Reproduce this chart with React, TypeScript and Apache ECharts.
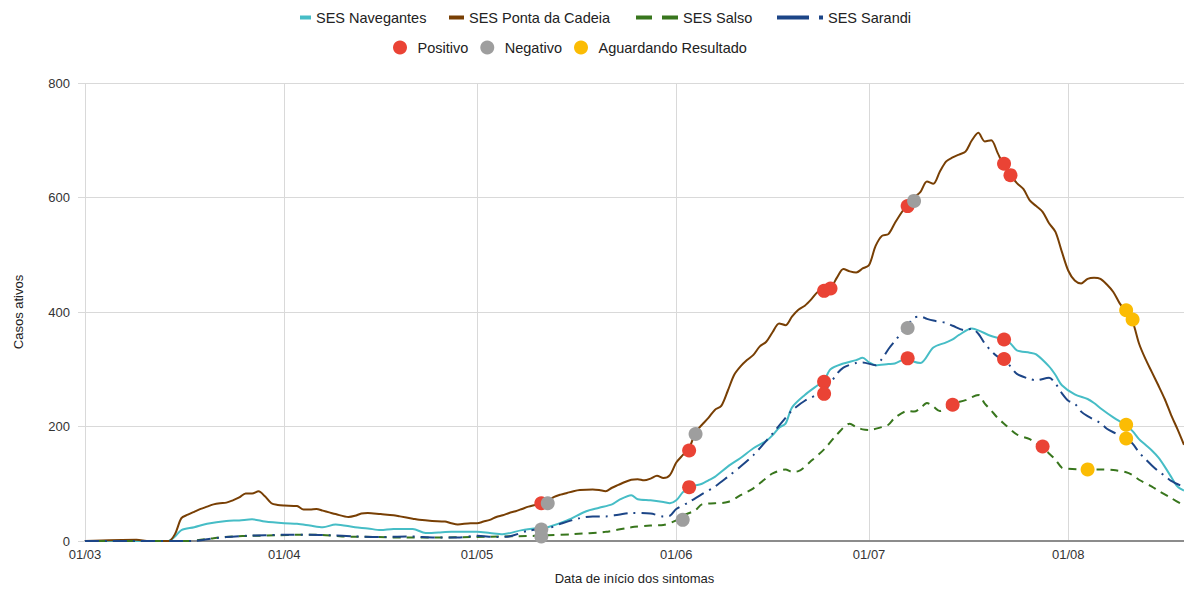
import React, { useEffect, useRef } from "react";
import * as echarts from "echarts";

// Category labels: one per day from 01/03 to 19/08
const monthNums = [3, 4, 5, 6, 7, 8];
const monthLens = [31, 30, 31, 30, 31, 31];
const lastDayIndex = 171;
const categories: string[] = [];
const monthStarts: number[] = [];
(() => {
  let idx = 0;
  for (let m = 0; m < monthNums.length; m++) {
    monthStarts.push(idx);
    for (let d = 1; d <= monthLens[m]; d++) {
      if (idx > lastDayIndex) return;
      categories.push(String(d).padStart(2, "0") + "/" + String(monthNums[m]).padStart(2, "0"));
      idx++;
    }
  }
})();

// [day index, active cases]
const navegantes: [number, number][] = [
  [0,0],[13,0],[14,8],[15,19],[17,24],[19,30],[22,35],[24,36],[26,38],[28,34],[31,31],[33,30],[35,27],[37,24],[39,29],[42,24],[44,22],[46,19],[48,21],[51,21],[53,14],[55,15],[57,16],[61,16],[63,14],[65,12],[68,19],[71,23],[72,24],[75,36],[78,52],[80,58],[82,64],[83,71],[85,80],[86,73],[88,71],[90,68],[91,66],[92,71],[93,85],[94,94],[96,100],[97,106],[98,112],[100,130],[102,145],[104,162],[106,175],[107,185],[108,198],[109,205],[110,233],[112,255],[114,272],[115,280],[116,300],[118,310],[120,316],[121,320],[122,312],[123,307],[125,309],[126,310],[128,319],[129,313],[130,311],[132,338],[134,347],[135,352],[136,360],[138,371],[139,368],[141,358],[143,352],[144,345],[145,333],[147,329],[148,326],[150,305],[151,290],[152,272],[154,256],[156,248],[157,241],[158,232],[160,216],[162,202],[163,192],[164,178],[165,168],[166,158],[167,146],[168,130],[169,112],[170,95],[171,88]
];
const pontaDaCadeia: [number, number][] = [
  [0,0],[8,2],[10,0],[13,0],[14,12],[15,40],[16,46],[17,51],[18,56],[19,60],[20,64],[21,66],[22,67],[23,71],[24,76],[25,83],[26,83],[27,87],[28,78],[29,66],[30,63],[31,62],[33,61],[34,55],[35,55],[36,56],[37,53],[38,50],[39,47],[41,42],[42,44],[43,48],[44,49],[46,47],[48,45],[49,43],[51,39],[52,37],[54,35],[56,34],[57,31],[58,29],[60,31],[61,31],[62,34],[63,37],[64,42],[65,45],[66,49],[67,52],[68,56],[69,60],[70,63],[71,66],[72,70],[73,77],[74,81],[75,84],[76,87],[77,89],[79,90],[80,89],[81,87],[82,93],[83,98],[84,103],[85,107],[86,108],[87,106],[88,109],[89,114],[90,110],[91,115],[92,137],[93,150],[94,162],[95,190],[96,203],[97,215],[98,229],[99,236],[100,262],[101,290],[102,305],[103,316],[104,325],[105,340],[106,348],[107,365],[108,380],[109,377],[110,392],[111,404],[112,411],[113,422],[114,435],[115,440],[116,442],[117,460],[118,475],[119,471],[120,469],[121,476],[122,482],[123,515],[124,533],[125,536],[126,555],[127,573],[128,588],[129,600],[130,610],[131,628],[132,624],[133,645],[134,663],[135,670],[136,675],[137,680],[138,700],[139,713],[140,698],[141,700],[142,678],[143,655],[144,640],[145,625],[146,615],[147,595],[148,585],[149,575],[150,555],[151,540],[152,505],[153,472],[154,455],[155,450],[156,458],[157,460],[158,458],[159,448],[160,435],[161,415],[162,400],[163,383],[164,345],[165,318],[166,295],[167,272],[168,248],[169,220],[170,195],[171,168]
];
const salso: [number, number][] = [
  [0,0],[16,0],[18,2],[20,5],[23,8],[26,9],[30,10],[33,11],[36,11],[40,8],[45,7],[50,6],[55,6],[60,7],[65,8],[70,9],[72,10],[76,12],[81,16],[85,24],[88,27],[90,28],[92,36],[93,44],[95,54],[96,64],[98,66],[100,68],[102,80],[104,92],[106,110],[107,118],[109,125],[110,121],[111,122],[113,140],[115,160],[117,186],[119,205],[120,199],[121,195],[122,194],[124,199],[125,203],[126,215],[128,227],[129,226],[130,232],[131,241],[132,235],[133,227],[134,233],[135,240],[137,246],[139,255],[140,240],[141,228],[142,215],[143,205],[145,186],[147,178],[148,170],[149,163],[150,153],[151,142],[152,128],[153,126],[155,125],[158,125],[160,124],[162,120],[163,115],[164,107],[166,95],[167,88],[169,75],[171,62]
];
const sarandi: [number, number][] = [
  [0,0],[17,0],[19,3],[22,7],[25,9],[28,10],[32,11],[35,11],[38,10],[42,8],[46,7],[50,8],[55,6],[58,6],[61,9],[64,7],[66,8],[69,18],[72,22],[74,30],[77,40],[79,43],[81,43],[83,46],[85,49],[88,48],[90,43],[91,44],[92,56],[94,68],[96,82],[98,95],[100,112],[102,130],[104,150],[106,175],[107,188],[109,215],[110,228],[112,245],[115,262],[116,276],[117,292],[118,303],[120,311],[121,312],[123,307],[124,318],[125,335],[126,349],[128,377],[129,390],[130,392],[131,388],[132,385],[134,381],[135,376],[137,368],[138,371],[139,362],[140,345],[141,332],[142,322],[143,317],[144,305],[145,292],[147,283],[148,281],[150,285],[151,275],[152,258],[153,245],[154,240],[155,226],[156,218],[158,206],[159,196],[160,190],[162,180],[163,170],[164,155],[165,143],[166,132],[167,122],[168,114],[169,105],[171,94]
];

const positivo: [number, number][] = [
  [71,66],[94,158],[94,94],[115,437],[116,441],[115,278],[115,257],[128,585],[128,319],[135,238],[143,659],[144,639],[143,352],[143,318],[149,165]
];
const negativo: [number, number][] = [
  [72,66],[71,20],[71,8],[93,37],[95,187],[129,594],[128,372]
];
const aguardando: [number, number][] = [
  [162,403],[163,387],[162,203],[162,179],[156,125]
];

const FONT = "Liberation Sans, Arial, sans-serif";
const LEGEND_TEXT = { fontSize: 14.5, color: "#222", fontFamily: FONT };

export default function App() {
  const ref = useRef<HTMLDivElement>(null);
  useEffect(() => {
    if (!ref.current) return;
    const chart = echarts.init(ref.current, undefined, { renderer: "svg" });
    const isMonthStart = (i: number) => monthStarts.indexOf(i) >= 0;
    const lineLegend = (name: string, left: number, w: number, icon: string) => ({
      data: [{ name, icon }],
      top: 10,
      left,
      padding: 0,
      itemWidth: w,
      itemHeight: 4,
      textStyle: LEGEND_TEXT,
    });
    chart.setOption({
      animation: false,
      textStyle: { fontFamily: FONT },
      legend: [
        lineLegend("SES Navegantes", 300, 11, "rect"),
        lineLegend("SES Ponta da Cadeia", 449, 15, "rect"),
        lineLegend("SES Salso", 636, 42, "path://M0,0H16V4H0ZM26,0H42V4H26Z"),
        lineLegend("SES Sarandi", 777, 46, "path://M0,0H32V4H0ZM42,0H46V4H42Z"),
        {
          data: ["Positivo", "Negativo", "Aguardando Resultado"],
          top: 40,
          left: 393,
          padding: 0,
          icon: "circle",
          itemWidth: 25,
          itemHeight: 14,
          itemGap: 12,
          textStyle: LEGEND_TEXT,
        },
      ],
      grid: { left: 85, right: 0, top: 83, bottom: 46, containLabel: false },
      xAxis: {
        type: "category",
        data: categories,
        boundaryGap: false,
        name: "Data de início dos sintomas",
        nameLocation: "middle",
        nameGap: 31,
        nameTextStyle: { fontSize: 13, color: "#222", fontFamily: FONT },
        axisLine: { lineStyle: { color: "#8c8c8c", width: 2 } },
        axisTick: { show: false },
        axisLabel: { interval: (i: number) => isMonthStart(i), fontSize: 13, color: "#333", margin: 7, fontFamily: FONT },
        splitLine: { show: true, interval: (i: number) => isMonthStart(i), lineStyle: { color: "#d9d9d9", width: 1 } },
      },
      yAxis: {
        type: "value",
        min: 0,
        max: 800,
        interval: 200,
        name: "Casos ativos",
        nameLocation: "middle",
        nameGap: 60,
        nameTextStyle: { fontSize: 13, color: "#222", fontFamily: FONT },
        axisLine: { show: false },
        axisTick: { show: true, length: 7, lineStyle: { color: "#d9d9d9" } },
        axisLabel: { fontSize: 13, color: "#333", margin: 15, fontFamily: FONT },
        splitLine: { lineStyle: { color: "#d9d9d9", width: 1 } },
      },
      series: [
        {
          name: "SES Navegantes", type: "line", data: navegantes, symbol: "none", smooth: 0.3,
          lineStyle: { color: "#46bdc6", width: 2 }, itemStyle: { color: "#46bdc6" },
        },
        {
          name: "SES Ponta da Cadeia", type: "line", data: pontaDaCadeia, symbol: "none", smooth: 0.3,
          lineStyle: { color: "#783f04", width: 2 }, itemStyle: { color: "#783f04" },
        },
        {
          name: "SES Salso", type: "line", data: salso, symbol: "none", smooth: 0.3,
          lineStyle: { color: "#38761d", width: 2, type: [8, 6] }, itemStyle: { color: "#38761d" },
        },
        {
          name: "SES Sarandi", type: "line", data: sarandi, symbol: "none", smooth: 0.3,
          lineStyle: { color: "#1c4587", width: 2, type: [14, 6, 2, 6] }, itemStyle: { color: "#1c4587" },
        },
        {
          name: "Positivo", type: "scatter", data: positivo, symbol: "circle", symbolSize: 14, z: 5,
          itemStyle: { color: "#ea4335", opacity: 1 },
        },
        {
          name: "Negativo", type: "scatter", data: negativo, symbol: "circle", symbolSize: 14, z: 5,
          itemStyle: { color: "#9e9e9e", opacity: 1 },
        },
        {
          name: "Aguardando Resultado", type: "scatter", data: aguardando, symbol: "circle", symbolSize: 14, z: 5,
          itemStyle: { color: "#fbbc04", opacity: 1 },
        },
      ],
    });
    return () => chart.dispose();
  }, []);
  return (
    <div
      ref={ref}
      style={{ position: "fixed", left: 0, top: 0, width: 1184, height: 590, background: "#fff" }}
    />
  );
}
